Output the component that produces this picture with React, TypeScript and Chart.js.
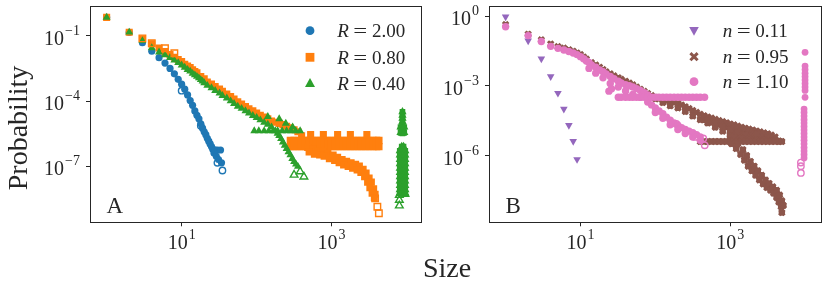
import { useEffect, useRef } from 'react';
import { Chart, registerables } from 'chart.js';

Chart.register(...registerables);

// ===================== Panel A data =====================
const blueSizes = [1, 2, 3, 4, 5, 6, 7, 8, 9, 10, 11, 12, 13, 14, 15, 16, 17, 18, 19, 20, 21, 22, 23, 24, 25, 26, 27, 28, 29, 30, 31, 33, 34];
const blueProb = [0.72, 0.148, 0.049, 0.02, 0.01, 5.6e-3, 3.2e-3, 1.8e-3, 1.0e-3, 6.0e-4, 3.5e-4, 1.9e-4, 1.05e-4, 6.3e-5, 3.5e-5, 2.2e-5, 1.5e-5, 8.9e-6, 5.6e-6, 3.8e-6, 2.8e-6, 1.9e-6, 1.4e-6, 1.05e-6, 7.9e-7, 6.0e-7, 4.0e-7, 5.5e-7, 2.8e-7, 5.5e-7, 2.0e-7, 5.5e-7, 1.4e-7];
const blueHollowSizes = [10, 18, 30, 35];
const blueHollowProb = [3.0e-4, 7.2e-6, 1.4e-7, 6.2e-8];

const orangeSizes = [1, 2, 3, 4, 5, 6, 7, 8, 9, 10, 11, 12, 13, 14, 15, 16, 18, 20, 22, 25, 28, 32, 35, 40, 45, 50, 56, 63, 71, 79, 89, 100, 112, 126, 141, 158, 178, 200, 224, 251, 282, 316, 355, 398, 447];
const orangeProb = [0.72, 0.148, 0.074, 0.044, 0.028, 0.019, 0.0138, 0.0105, 8.3e-3, 6.6e-3, 5.0e-3, 4.1e-3, 3.5e-3, 2.75e-3, 2.3e-3, 2.0e-3, 1.35e-3, 1.05e-3, 7.6e-4, 6.0e-4, 4.7e-4, 3.6e-4, 2.8e-4, 2.1e-4, 1.6e-4, 1.23e-4, 9.3e-5, 7.2e-5, 5.6e-5, 4.4e-5, 3.5e-5, 2.8e-5, 2.2e-5, 1.8e-5, 1.5e-5, 1.2e-5, 1.05e-5, 9.3e-6, 8.1e-6, 6.8e-6, 5.8e-6, 4.7e-6, 3.8e-6, 2.5e-6, 1.4e-6];
const orangePlateauSizes = [282, 316, 355, 398, 447, 501, 562, 631, 708, 794, 891, 1000, 1122, 1259, 1413, 1585, 1778, 1995, 2239, 2512, 2818, 3162, 3548, 3981, 4266];
const orangePlateauProb = [1.5e-6, 1.5e-6, 1.5e-6, 1.5e-6, 1.5e-6, 1.5e-6, 1.5e-6, 1.5e-6, 1.5e-6, 1.5e-6, 1.5e-6, 1.5e-6, 1.5e-6, 1.5e-6, 1.5e-6, 1.5e-6, 1.5e-6, 1.5e-6, 1.5e-6, 1.5e-6, 1.5e-6, 1.5e-6, 1.5e-6, 1.5e-6, 1.5e-6];
const orangePlateauLowSizes = [282, 316, 355, 398, 447, 501, 562, 631, 708, 794, 891, 1000, 1122, 1259, 1413, 1585, 1778, 1995, 2239, 2512, 2818, 3162, 3548, 3981, 4266];
const orangePlateauLowProb = [7.9e-7, 7.9e-7, 7.9e-7, 7.9e-7, 7.9e-7, 7.9e-7, 7.9e-7, 7.9e-7, 7.9e-7, 7.9e-7, 7.9e-7, 7.9e-7, 7.9e-7, 7.9e-7, 7.9e-7, 7.9e-7, 7.9e-7, 7.9e-7, 7.9e-7, 7.9e-7, 7.9e-7, 7.9e-7, 7.9e-7, 7.9e-7, 7.9e-7];
const orangeStepSizes = [525, 776, 1202, 1778, 2951];
const orangeStepProb = [2.8e-6, 2.8e-6, 2.8e-6, 2.8e-6, 2.8e-6];
const orangeTailSizes = [479, 562, 661, 759, 891, 1047, 1202, 1380, 1585, 1820, 2089, 2344, 2630, 2884, 3162, 3388, 3631, 3802, 501, 589, 692, 794, 933, 1096, 1259, 1445, 1660, 1905, 2188, 2455, 2754, 3020, 3236, 3467, 3715];
const orangeTailProb = [7.1e-7, 6.0e-7, 5.0e-7, 4.7e-7, 3.8e-7, 3.2e-7, 2.5e-7, 2.0e-7, 1.66e-7, 1.41e-7, 1.2e-7, 1.0e-7, 7.1e-8, 4.8e-8, 2.8e-8, 1.8e-8, 8.9e-9, 5.0e-9, 4.5e-7, 3.5e-7, 3.2e-7, 2.8e-7, 2.2e-7, 1.8e-7, 1.41e-7, 1.12e-7, 9.5e-8, 7.9e-8, 6.6e-8, 5.0e-8, 3.2e-8, 1.8e-8, 1.0e-8, 5.6e-9, 3.5e-9];
const orangeHollowSizes = [3, 4, 6, 8, 3802, 4074, 4266];
const orangeHollowProb = [0.078, 0.046, 0.027, 0.016, 3.2e-9, 1.32e-9, 6.6e-10];

const greenSizes = [1, 2, 3, 4, 5, 6, 7, 8, 9, 10, 11, 12, 13, 14, 15, 16, 17, 18, 19, 20, 22, 25, 28, 32, 35, 40, 45, 50, 56, 63, 71, 79, 89, 100, 112, 126, 141, 158, 178, 200, 224, 251, 282, 316, 355];
const greenProb = [0.72, 0.148, 0.06, 0.028, 0.018, 0.0132, 0.01, 7.6e-3, 5.8e-3, 4.5e-3, 3.55e-3, 2.8e-3, 2.35e-3, 1.86e-3, 1.58e-3, 1.35e-3, 1.15e-3, 9.5e-4, 8.1e-4, 6.9e-4, 5.2e-4, 4.0e-4, 3.0e-4, 2.3e-4, 1.78e-4, 1.35e-4, 1.0e-4, 7.6e-5, 5.6e-5, 4.5e-5, 3.5e-5, 2.75e-5, 2.1e-5, 1.7e-5, 1.32e-5, 1.02e-5, 8.3e-6, 6.3e-6, 4.2e-6, 2.5e-6, 1.26e-6, 6.3e-7, 3.2e-7, 1.58e-7, 9.5e-8];
const greenExtraSizes = [190, 212, 237, 266, 299, 335];
const greenExtraProb = [3.2e-6, 1.8e-6, 9.0e-7, 4.5e-7, 2.2e-7, 1.2e-7];
const greenPlateauSizes = [93, 107, 126, 145, 166, 191, 219, 251, 288, 331, 380, 141, 200, 245, 302];
const greenPlateauProb = [4.2e-6, 4.2e-6, 4.2e-6, 4.2e-6, 4.2e-6, 4.2e-6, 4.2e-6, 4.2e-6, 4.2e-6, 4.2e-6, 4.2e-6, 1.9e-5, 1.5e-5, 9.3e-6, 6.3e-6];
const greenTailSizes = [
  8800, 8800, 8800, 8800, 8800, 8800, 8800, 8800, 8300, 8300, 9300, 9300,
  8600, 8600, 8600, 8600, 8600, 8600, 8600, 8600, 8600, 8600, 8600,
  9100, 9100, 9100, 9100, 9100, 9100, 9100, 9100, 9100, 9100, 9100,
  8100, 8100, 8100, 8100, 8100, 8100, 8100, 8100, 8100, 8100, 8100,
  9600, 9600, 9600, 9600, 9600, 9600, 9600, 9600, 9600, 9600, 9600];
const greenTailProb = [
  3.2e-5, 2.2e-5, 1.58e-5, 1.12e-5, 7.9e-6, 5.6e-6, 4.0e-6, 3.2e-6, 6.3e-6, 3.5e-6, 6.3e-6, 3.5e-6,
  7.9e-7, 5.0e-7, 3.2e-7, 2.0e-7, 1.26e-7, 7.9e-8, 5.0e-8, 3.2e-8, 2.0e-8, 1.26e-8, 7.9e-9,
  7.9e-7, 5.0e-7, 3.2e-7, 2.0e-7, 1.26e-7, 7.9e-8, 5.0e-8, 3.2e-8, 2.0e-8, 1.26e-8, 7.9e-9,
  5.0e-7, 3.2e-7, 2.0e-7, 1.26e-7, 7.9e-8, 5.0e-8, 3.2e-8, 2.0e-8, 1.26e-8, 7.9e-9, 5.6e-9,
  5.0e-7, 3.2e-7, 2.0e-7, 1.26e-7, 7.9e-8, 5.0e-8, 3.2e-8, 2.0e-8, 1.26e-8, 7.9e-9, 5.6e-9];
const greenHollowSizes = [316, 380, 427, 8000, 8000, 8000, 9500];
const greenHollowProb = [3.9e-8, 5.6e-8, 3.2e-8, 4.6e-9, 2.7e-9, 1.48e-9, 5.0e-9];

// ===================== Panel B data =====================
const purpleSizes = [1, 2, 3, 4, 5, 6, 7, 8, 9];
const purpleProb = [0.93, 0.087, 0.0145, 2.5e-3, 4.8e-4, 1.0e-4, 2.0e-5, 4.1e-6, 6.8e-7];

const brownSizes = [1, 2, 3, 4, 5, 6, 7, 8, 9, 10, 11, 12, 14, 16, 18, 20, 22, 25, 28, 32, 35, 40, 45, 50, 56, 63, 71, 79, 89, 100, 112, 126, 141, 158, 178, 200, 224, 251, 282, 316, 355, 398, 447, 501, 562, 631, 708, 794, 891, 1000, 1122, 1259, 1413, 1585, 1778, 1995, 2239, 2512, 2818, 3162, 3548, 3981];
const brownProb = [0.43, 0.166, 0.095, 0.063, 0.049, 0.042, 0.036, 0.031, 0.026, 0.022, 0.0174, 0.0141, 0.010, 7.9e-3, 6.3e-3, 5.0e-3, 4.0e-3, 3.3e-3, 2.7e-3, 2.24e-3, 1.9e-3, 1.58e-3, 1.32e-3, 1.1e-3, 8.9e-4, 7.2e-4, 5.8e-4, 4.7e-4, 3.8e-4, 3.2e-4, 2.75e-4, 2.45e-4, 2.24e-4, 2.0e-4, 1.9e-4, 1.78e-4, 1.51e-4, 1.26e-4, 1.05e-4, 8.7e-5, 7.2e-5, 6.0e-5, 5.2e-5, 4.6e-5, 4.1e-5, 3.6e-5, 3.2e-5, 2.9e-5, 2.6e-5, 2.3e-5, 2.1e-5, 1.86e-5, 1.66e-5, 1.51e-5, 1.38e-5, 1.26e-5, 1.15e-5, 1.05e-5, 9.5e-6, 8.7e-6, 7.6e-6, 6.3e-6];
const brownLowSizes = [100, 126, 158, 200, 251, 316, 398, 501, 631, 794, 1000, 501, 631, 794, 1000, 1259, 1585, 1995, 2512, 3162, 1122, 1413, 1778, 2239, 2818, 3548];
const brownLowProb = [2.8e-4, 1.9e-4, 1.38e-4, 1.12e-4, 7.9e-5, 5.0e-5, 3.5e-5, 2.5e-5, 1.66e-5, 1.12e-5, 7.6e-6, 3.4e-5, 2.5e-5, 1.78e-5, 1.32e-5, 1.0e-5, 7.9e-6, 7.1e-6, 6.3e-6, 6.0e-6, 6.3e-6, 5.6e-6, 5.2e-6, 5.0e-6, 4.8e-6, 4.6e-6];
const brownFillSizes = [
  447, 501, 562, 631, 708, 794, 891, 1000, 1122, 1259, 1413, 1585, 1778, 1995, 2239, 2512, 2818, 3162, 3548, 3981,
  1000, 1122, 1259, 1413, 1585, 1778, 1995, 2239, 2512, 2818, 3162, 3548, 3981, 4467,
  1000, 1122, 1259, 1413, 1585, 1778];
const brownFillProb = [
  3.5e-5, 3.1e-5, 2.75e-5, 2.45e-5, 2.2e-5, 1.95e-5, 1.74e-5, 1.58e-5, 1.41e-5, 1.26e-5, 1.12e-5, 1.02e-5, 9.3e-6, 8.5e-6, 7.8e-6, 7.1e-6, 6.5e-6, 5.9e-6, 5.2e-6, 4.8e-6,
  1.0e-5, 9.5e-6, 8.9e-6, 8.3e-6, 7.6e-6, 7.1e-6, 6.3e-6, 5.9e-6, 5.5e-6, 5.2e-6, 5.0e-6, 4.8e-6, 4.5e-6, 4.2e-6,
  6.3e-6, 6.0e-6, 5.8e-6, 5.5e-6, 5.2e-6, 5.0e-6];
const brownPlateauSizes = [398, 447, 501, 562, 631, 708, 794, 891, 1000, 1122, 1259, 1413, 1585, 1778, 1995, 2138, 2239, 2291, 2512, 2818, 3162, 3548, 3981, 4467, 4898];
const brownPlateauProb = [4.0e-6, 4.0e-6, 4.0e-6, 4.0e-6, 4.0e-6, 4.0e-6, 4.0e-6, 4.0e-6, 4.0e-6, 4.0e-6, 4.0e-6, 4.0e-6, 4.0e-6, 4.0e-6, 4.0e-6, 8.7e-6, 4.0e-6, 8.7e-6, 4.0e-6, 4.0e-6, 4.0e-6, 4.0e-6, 4.0e-6, 4.0e-6, 4.0e-6];
const brownTailSizes = [1047, 1202, 1380, 1549, 1738, 1950, 2188, 2455, 2754, 3090, 3467, 3802, 4169, 4467, 4786, 4898, 1259, 1479, 1660, 1862, 2089, 2344, 2630, 2951, 3311, 3715, 4169, 4571, 4898, 5129];
const brownTailProb = [3.2e-6, 2.0e-6, 1.12e-6, 6.3e-7, 3.5e-7, 2.2e-7, 1.41e-7, 8.9e-8, 6.0e-8, 4.2e-8, 3.2e-8, 2.4e-8, 1.58e-8, 1.0e-8, 6.3e-9, 3.5e-9, 3.2e-6, 1.78e-6, 1.0e-6, 5.6e-7, 3.5e-7, 2.2e-7, 1.41e-7, 8.9e-8, 6.3e-8, 4.5e-8, 3.2e-8, 2.0e-8, 1.12e-8, 7.1e-9];

const pinkSizes = [1, 2, 3, 4, 5, 6, 7, 8, 9, 10, 11, 12, 13, 14, 16, 18, 20, 22, 25, 28, 32, 35, 40, 45, 50, 56, 63, 71, 79];
const pinkProb = [0.35, 0.145, 0.081, 0.05, 0.041, 0.035, 0.030, 0.026, 0.022, 0.018, 0.0145, 0.0117, 0.010, 7.9e-3, 6.3e-3, 4.8e-3, 4.0e-3, 3.2e-3, 2.5e-3, 2.0e-3, 1.58e-3, 1.32e-3, 1.12e-3, 1.0e-3, 8.9e-4, 7.6e-4, 6.3e-4, 5.0e-4, 4.0e-4];
const pinkLowSizes = [13, 16, 20, 25, 32, 40, 50, 63, 79, 89, 100, 112, 126, 141, 158, 178, 200, 224, 251, 282, 316, 355, 398, 100, 126, 158, 200, 251, 316, 398, 24, 26];
const pinkLowProb = [5.6e-3, 3.5e-3, 2.2e-3, 1.26e-3, 8.9e-4, 6.0e-4, 4.2e-4, 3.2e-4, 2.0e-4, 1.51e-4, 1.12e-4, 8.3e-5, 6.3e-5, 4.5e-5, 3.3e-5, 2.5e-5, 2.0e-5, 1.58e-5, 1.32e-5, 1.12e-5, 9.5e-6, 7.9e-6, 6.3e-6, 7.1e-5, 4.0e-5, 2.1e-5, 1.32e-5, 8.9e-6, 6.3e-6, 4.5e-6, 5.9e-4, 7.4e-4];
const pinkPlateauSizes = [32, 35, 40, 45, 50, 56, 63, 71, 79, 89, 100, 112, 126, 141, 158, 178, 200, 224, 251, 282, 316, 355, 398, 455];
const pinkPlateauProb = [3.2e-4, 3.2e-4, 3.2e-4, 3.2e-4, 3.2e-4, 3.2e-4, 3.2e-4, 3.2e-4, 3.2e-4, 3.2e-4, 3.2e-4, 3.2e-4, 3.2e-4, 3.2e-4, 3.2e-4, 3.2e-4, 3.2e-4, 3.2e-4, 3.2e-4, 3.2e-4, 3.2e-4, 3.2e-4, 3.2e-4, 3.2e-4];
const pinkTailSizes = [10000, 10000, 10000, 10000, 10000, 10000, 10000, 10000, 10000, 10000,
  9700, 9700, 9700, 9700, 9700, 9700, 9700, 9700, 9700, 9700, 9700, 9700, 9700, 9700, 9700];
const pinkTailProb = [0.0275, 7.1e-3, 5.0e-3, 3.5e-3, 2.5e-3, 1.78e-3, 1.26e-3, 8.9e-4, 6.3e-4, 3.2e-4,
  1.0e-4, 7.1e-5, 5.0e-5, 3.5e-5, 2.5e-5, 1.78e-5, 1.26e-5, 8.9e-6, 6.3e-6, 4.5e-6, 3.2e-6, 2.2e-6, 1.58e-6, 1.12e-6, 7.9e-7];
const pinkHollowSizes = [191, 339, 437, 457, 8800, 8800, 8800];
const pinkHollowProb = [2.3e-5, 6.3e-6, 5.4e-6, 2.75e-6, 5.0e-7, 3.5e-7, 1.78e-7];

// ===================== labels / ticks =====================
const xTickValues = [10, 1000];
const yTickValuesA = [1e-1, 1e-4, 1e-7];
const yTickValuesB = [1, 1e-3, 1e-6];
const legendValuesA = ['2.00', '0.80', '0.40'];
const legendValuesB = ['0.11', '0.95', '1.10'];

// ===================== styling =====================
const SERIF = '"Liberation Serif", "Times New Roman", Times, serif';
const INK = '#262626';
const BLUE = '#1f77b4', ORANGE = '#ff7f0e', GREEN = '#2ca02c';
const PURPLE = '#9467bd', BROWN = '#8c564b', PINK = '#e377c2';

type Marker = 'circle' | 'rect' | 'triangle' | 'triangleDown' | 'x';
interface SeriesDef { xs: number[]; ys: number[]; color: string; marker: Marker; r: number; hollow?: boolean }

function toDatasets(list: SeriesDef[]) {
  // list is bottom -> top; Chart.js draws lower `order` on top
  return list.map((s, i) => {
    const style = s.marker === 'triangleDown' ? 'triangle' : s.marker === 'x' ? 'crossRot' : s.marker;
    return {
      data: s.xs.map((x, k) => ({ x, y: s.ys[k] })),
      pointStyle: style,
      pointRotation: s.marker === 'triangleDown' ? 180 : 0,
      pointRadius: s.r,
      pointHoverRadius: s.r,
      pointBackgroundColor: s.hollow ? 'rgba(0,0,0,0)' : s.color,
      pointBorderColor: s.color,
      pointBorderWidth: s.hollow ? 1.4 : s.marker === 'x' ? 3 : 0,
      showLine: false,
      order: list.length - i,
    };
  });
}

function drawMarker(ctx: CanvasRenderingContext2D, m: Marker, x: number, y: number, color: string) {
  ctx.save();
  ctx.fillStyle = color;
  ctx.strokeStyle = color;
  ctx.beginPath();
  if (m === 'circle') {
    ctx.arc(x, y, 4.4, 0, Math.PI * 2);
    ctx.fill();
  } else if (m === 'rect') {
    ctx.rect(x - 4.4, y - 4.4, 8.8, 8.8);
    ctx.fill();
  } else if (m === 'triangle') {
    ctx.moveTo(x, y - 5.2);
    ctx.lineTo(x + 5, y + 3.8);
    ctx.lineTo(x - 5, y + 3.8);
    ctx.closePath();
    ctx.fill();
  } else if (m === 'triangleDown') {
    ctx.moveTo(x, y + 5);
    ctx.lineTo(x + 4.8, y - 3.6);
    ctx.lineTo(x - 4.8, y - 3.6);
    ctx.closePath();
    ctx.fill();
  } else {
    ctx.lineWidth = 3;
    ctx.moveTo(x - 3.6, y - 3.6);
    ctx.lineTo(x + 3.6, y + 3.6);
    ctx.moveTo(x + 3.6, y - 3.6);
    ctx.lineTo(x - 3.6, y + 3.6);
    ctx.stroke();
  }
  ctx.restore();
}

function drawPow(ctx: CanvasRenderingContext2D, value: number, x: number, yBase: number, align: 'right' | 'center') {
  const exp = Math.round(Math.log10(value));
  const e = exp < 0 ? '\u2212' + Math.abs(exp) : String(exp);
  ctx.font = `20px ${SERIF}`;
  const wb = ctx.measureText('10').width;
  ctx.font = `14px ${SERIF}`;
  const we = ctx.measureText(e).width;
  const total = wb + 1 + we;
  const left = align === 'right' ? x - total : x - total / 2;
  ctx.textAlign = 'left';
  ctx.textBaseline = 'alphabetic';
  ctx.font = `20px ${SERIF}`;
  ctx.fillText('10', left, yBase);
  ctx.font = `14px ${SERIF}`;
  ctx.fillText(e, left + wb + 1, yBase - 10);
}

interface Decor {
  letter: string;
  yTicks: number[];
  legendVar: string;
  legendVals: string[];
  legendMarkers: Marker[];
  legendColors: string[];
  legendMarkerX: number;
  legendTextX: number;
  legendRows: number[];
  axisTitles: boolean;
}

function decorPlugin(d: Decor) {
  return {
    id: 'decor',
    afterDraw(chart: any) {
      const ctx: CanvasRenderingContext2D = chart.ctx;
      const a = chart.chartArea;
      const al = (v: number) => Math.round(v - 0.5) + 0.5;
      ctx.save();
      // frame
      ctx.strokeStyle = INK;
      ctx.lineWidth = 1;
      ctx.strokeRect(al(a.left), al(a.top), al(a.right) - al(a.left), al(a.bottom) - al(a.top));
      ctx.fillStyle = INK;
      // tick labels
      const xs = chart.scales.x;
      const ys = chart.scales.y;
      xTickValues.forEach((v) => drawPow(ctx, v, xs.getPixelForValue(v), a.bottom + 27, 'center'));
      d.yTicks.forEach((v) => drawPow(ctx, v, a.left - 10, ys.getPixelForValue(v) + 9, 'right'));
      // panel letter
      ctx.font = `23px ${SERIF}`;
      ctx.textAlign = 'left';
      ctx.textBaseline = 'alphabetic';
      ctx.fillText(d.letter, a.left + 16.5, 213.3);
      // legend
      d.legendVals.forEach((val, i) => {
        const ry = d.legendRows[i];
        drawMarker(ctx, d.legendMarkers[i], d.legendMarkerX, ry, d.legendColors[i]);
        ctx.fillStyle = INK;
        const by = ry + 6.3;
        ctx.textAlign = 'left';
        ctx.font = `italic 19px ${SERIF}`;
        ctx.fillText(d.legendVar, d.legendTextX, by);
        const eqC = d.legendTextX + ctx.measureText(d.legendVar).width + 11.4;
        ctx.font = `19px ${SERIF}`;
        ctx.save();
        ctx.translate(eqC, by);
        ctx.scale(1.3, 1);
        ctx.textAlign = 'center';
        ctx.fillText('=', 0, 0);
        ctx.restore();
        ctx.textAlign = 'left';
        ctx.fillText(val, eqC + 11.7, by);
      });
      if (d.axisTitles) {
        ctx.font = `28px ${SERIF}`;
        ctx.fillStyle = INK;
        ctx.save();
        ctx.translate(26.5, 128);
        ctx.rotate(-Math.PI / 2);
        ctx.textAlign = 'center';
        ctx.fillText('Probability', 0, 0);
        ctx.restore();
        ctx.textAlign = 'center';
        ctx.fillText('Size', 447, 277);
      }
      ctx.restore();
    },
  };
}

function makeConfig(series: SeriesDef[], decor: Decor, area: { left: number; right: number }, xr: [number, number], yr: [number, number]) {
  const gridOpts = { drawOnChartArea: false, drawTicks: true, tickLength: 4, color: INK, lineWidth: 1 };
  return {
    type: 'scatter',
    data: { datasets: toDatasets(series) },
    options: {
      animation: false,
      responsive: false,
      devicePixelRatio: 1,
      events: [],
      layout: { padding: { left: area.left - 40, right: 828 - area.right, top: 6, bottom: 0 } },
      plugins: { legend: { display: false }, tooltip: { enabled: false } },
      scales: {
        x: {
          type: 'logarithmic',
          min: xr[0],
          max: xr[1],
          afterBuildTicks: (s: any) => { s.ticks = xTickValues.map((v) => ({ value: v })); },
          afterFit: (s: any) => { s.height = 290 - 222.3; },
          grid: gridOpts,
          border: { display: false },
          ticks: { display: false },
        },
        y: {
          type: 'logarithmic',
          min: yr[0],
          max: yr[1],
          afterBuildTicks: (s: any) => { s.ticks = decor.yTicks.map((v) => ({ value: v })); },
          afterFit: (s: any) => { s.width = 40; },
          grid: gridOpts,
          border: { display: false },
          ticks: { display: false },
        },
      },
    },
    plugins: [decorPlugin(decor)],
  };
}

const seriesA: SeriesDef[] = [
  { xs: blueSizes, ys: blueProb, color: BLUE, marker: 'circle', r: 3.6 },
  { xs: orangeSizes, ys: orangeProb, color: ORANGE, marker: 'rect', r: 5 },
  { xs: orangePlateauSizes, ys: orangePlateauProb, color: ORANGE, marker: 'rect', r: 5.2 },
  { xs: orangePlateauLowSizes, ys: orangePlateauLowProb, color: ORANGE, marker: 'rect', r: 5.2 },
  { xs: orangeStepSizes, ys: orangeStepProb, color: ORANGE, marker: 'rect', r: 5 },
  { xs: orangeTailSizes, ys: orangeTailProb, color: ORANGE, marker: 'rect', r: 5 },
  { xs: greenTailSizes, ys: greenTailProb, color: GREEN, marker: 'rect', r: 4 },
  { xs: greenSizes, ys: greenProb, color: GREEN, marker: 'triangle', r: 4.6 },
  { xs: greenExtraSizes, ys: greenExtraProb, color: GREEN, marker: 'triangle', r: 4.6 },
  { xs: greenPlateauSizes, ys: greenPlateauProb, color: GREEN, marker: 'triangle', r: 4.6 },
  { xs: greenTailSizes, ys: greenTailProb, color: GREEN, marker: 'triangle', r: 4.8 },
  { xs: blueHollowSizes, ys: blueHollowProb, color: BLUE, marker: 'circle', r: 3.2, hollow: true },
  { xs: orangeHollowSizes, ys: orangeHollowProb, color: ORANGE, marker: 'rect', r: 4.6, hollow: true },
  { xs: greenHollowSizes, ys: greenHollowProb, color: GREEN, marker: 'triangle', r: 4.4, hollow: true },
];

const seriesB: SeriesDef[] = [
  { xs: purpleSizes, ys: purpleProb, color: PURPLE, marker: 'triangleDown', r: 4.4 },
  // filled cores under the X markers (dense brown clouds)
  { xs: brownFillSizes, ys: brownFillProb, color: BROWN, marker: 'circle', r: 3.4 },
  { xs: brownLowSizes, ys: brownLowProb, color: BROWN, marker: 'circle', r: 3.2 },
  { xs: brownPlateauSizes, ys: brownPlateauProb, color: BROWN, marker: 'circle', r: 3.2 },
  { xs: brownTailSizes, ys: brownTailProb, color: BROWN, marker: 'circle', r: 3.2 },
  { xs: brownSizes, ys: brownProb, color: BROWN, marker: 'circle', r: 2.6 },
  { xs: brownFillSizes, ys: brownFillProb, color: BROWN, marker: 'x', r: 3.8 },
  { xs: brownSizes, ys: brownProb, color: BROWN, marker: 'x', r: 3.8 },
  { xs: brownLowSizes, ys: brownLowProb, color: BROWN, marker: 'x', r: 3.8 },
  { xs: brownPlateauSizes, ys: brownPlateauProb, color: BROWN, marker: 'x', r: 3.8 },
  { xs: brownTailSizes, ys: brownTailProb, color: BROWN, marker: 'x', r: 3.8 },
  { xs: pinkSizes, ys: pinkProb, color: PINK, marker: 'circle', r: 3.7 },
  { xs: pinkLowSizes, ys: pinkLowProb, color: PINK, marker: 'circle', r: 3.7 },
  { xs: pinkPlateauSizes, ys: pinkPlateauProb, color: PINK, marker: 'circle', r: 3.7 },
  { xs: pinkTailSizes, ys: pinkTailProb, color: PINK, marker: 'circle', r: 3.4 },
  { xs: pinkHollowSizes, ys: pinkHollowProb, color: PINK, marker: 'circle', r: 3.2, hollow: true },
];

const decorA: Decor = {
  letter: 'A', yTicks: yTickValuesA, legendVar: 'R', legendVals: legendValuesA,
  legendMarkers: ['circle', 'rect', 'triangle'], legendColors: [BLUE, ORANGE, GREEN],
  legendMarkerX: 310, legendTextX: 337.3, legendRows: [30.7, 57.3, 83.3], axisTitles: true,
};
const decorB: Decor = {
  letter: 'B', yTicks: yTickValuesB, legendVar: 'n', legendVals: legendValuesB,
  legendMarkers: ['triangleDown', 'x', 'circle'], legendColors: [PURPLE, BROWN, PINK],
  legendMarkerX: 694, legendTextX: 722.7, legendRows: [30.7, 56.7, 81.7], axisTitles: false,
};

function Panel({ build }: { build: () => any }) {
  const ref = useRef<HTMLCanvasElement>(null);
  useEffect(() => {
    const chart = new Chart(ref.current as HTMLCanvasElement, build());
    return () => chart.destroy();
  }, [build]);
  return (
    <canvas
      ref={ref}
      width={828}
      height={290}
      style={{ position: 'absolute', left: 0, top: 0, width: 828, height: 290 }}
    />
  );
}

const buildA = () => makeConfig(seriesA, decorA, { left: 90, right: 421.7 }, [0.643, 15890], [2.53e-10, 2.42]);
const buildB = () => makeConfig(seriesB, decorB, { left: 489, right: 821 }, [0.612, 16330], [1.34e-9, 2.51]);

export default function App() {
  return (
    <div style={{ position: 'absolute', left: 0, top: 0, width: 828, height: 290, background: '#ffffff' }}>
      <Panel build={buildA} />
      <Panel build={buildB} />
    </div>
  );
}
